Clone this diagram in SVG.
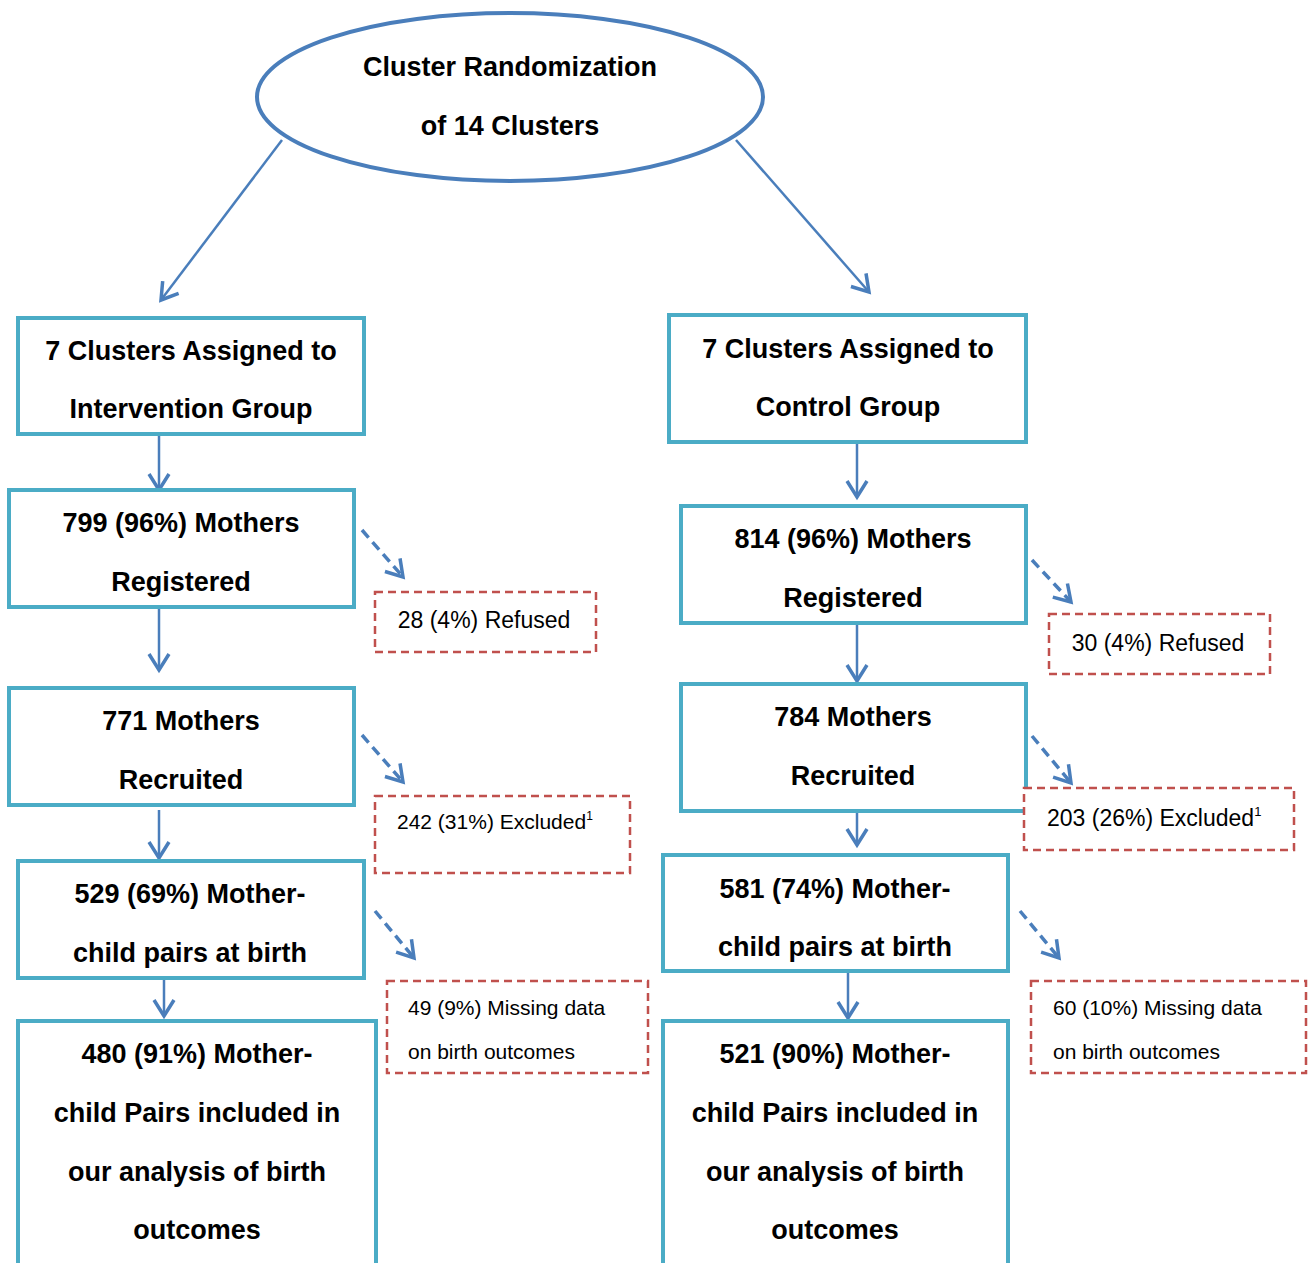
<svg xmlns="http://www.w3.org/2000/svg" width="1311" height="1263" viewBox="0 0 1311 1263">
<style>
.box{fill:#fff;stroke:#4bacc6;stroke-width:4}
.dbox{fill:#fff;stroke:#c0504d;stroke-width:2.5;stroke-dasharray:8 5}
.b{font-family:"Liberation Sans",Arial,sans-serif;font-weight:bold;font-size:27px;fill:#000;text-anchor:middle}
.r{font-family:"Liberation Sans",Arial,sans-serif;font-size:23px;fill:#000}
.s{font-size:21px}
.a{stroke:#4a7ebb;stroke-width:2.5;fill:none}
.d{stroke:#4a7ebb;stroke-width:3.5;fill:none;stroke-dasharray:10 6}
</style>
<defs>
<marker id="ah" markerUnits="userSpaceOnUse" markerWidth="26" markerHeight="26" viewBox="0 0 26 26" refX="22" refY="13" orient="auto">
<path d="M6,3 L22,13 L6,23" fill="none" stroke="#4a7ebb" stroke-width="3.5"/>
</marker>
</defs>
<g id="connectors">
<line class="a" x1="282" y1="140" x2="161" y2="300" marker-end="url(#ah)"/>
<line class="a" x1="736" y1="140" x2="869" y2="292" marker-end="url(#ah)"/>
<line class="a" x1="159" y1="432" x2="159" y2="490" marker-end="url(#ah)"/>
<line class="a" x1="159" y1="607" x2="159" y2="670" marker-end="url(#ah)"/>
<line class="a" x1="159" y1="810" x2="159" y2="858" marker-end="url(#ah)"/>
<line class="a" x1="164" y1="980" x2="164" y2="1016" marker-end="url(#ah)"/>
<line class="a" x1="857" y1="432" x2="857" y2="497" marker-end="url(#ah)"/>
<line class="a" x1="857" y1="615" x2="857" y2="681" marker-end="url(#ah)"/>
<line class="a" x1="857" y1="811" x2="857" y2="845" marker-end="url(#ah)"/>
<line class="a" x1="848" y1="971" x2="848" y2="1018" marker-end="url(#ah)"/>
<line class="d" x1="362" y1="530" x2="403" y2="577" marker-end="url(#ah)"/>
<line class="d" x1="1032" y1="560" x2="1071" y2="602" marker-end="url(#ah)"/>
<line class="d" x1="362" y1="735" x2="403" y2="782" marker-end="url(#ah)"/>
<line class="d" x1="1032" y1="736" x2="1071" y2="783" marker-end="url(#ah)"/>
<line class="d" x1="375" y1="911" x2="414" y2="958" marker-end="url(#ah)"/>
<line class="d" x1="1020" y1="911" x2="1059" y2="958" marker-end="url(#ah)"/>
</g>
<g id="root">
<ellipse cx="510" cy="97" rx="253" ry="84" fill="#fff" stroke="#4a7ebb" stroke-width="4"/>
<text class="b" x="510" y="76">Cluster Randomization</text>
<text class="b" x="510" y="135">of 14 Clusters</text>
</g>
<g id="L1"><rect class="box" x="18" y="318" width="346" height="116"/>
<text class="b" x="191" y="360">7 Clusters Assigned to</text>
<text class="b" x="191" y="418">Intervention Group</text></g>
<g id="R1"><rect class="box" x="669" y="315" width="357" height="127"/>
<text class="b" x="848" y="358">7 Clusters Assigned to</text>
<text class="b" x="848" y="416">Control Group</text></g>
<g id="L2"><rect class="box" x="9" y="490" width="345" height="117"/>
<text class="b" x="181" y="532">799 (96%) Mothers</text>
<text class="b" x="181" y="591">Registered</text></g>
<g id="R2"><rect class="box" x="681" y="506" width="345" height="117"/>
<text class="b" x="853" y="548">814 (96%) Mothers</text>
<text class="b" x="853" y="607">Registered</text></g>
<g id="L3"><rect class="box" x="9" y="688" width="345" height="117"/>
<text class="b" x="181" y="730">771 Mothers</text>
<text class="b" x="181" y="789">Recruited</text></g>
<g id="R3"><rect class="box" x="681" y="684" width="345" height="127"/>
<text class="b" x="853" y="726">784 Mothers</text>
<text class="b" x="853" y="785">Recruited</text></g>
<g id="L4"><rect class="box" x="18" y="861" width="346" height="117"/>
<text class="b" x="190" y="903">529 (69%) Mother-</text>
<text class="b" x="190" y="962">child pairs at birth</text></g>
<g id="R4"><rect class="box" x="663" y="855" width="345" height="116"/>
<text class="b" x="835" y="898">581 (74%) Mother-</text>
<text class="b" x="835" y="956">child pairs at birth</text></g>
<g id="L5"><rect class="box" x="18" y="1021" width="358" height="250"/>
<text class="b" x="197" y="1063">480 (91%) Mother-</text>
<text class="b" x="197" y="1122">child Pairs included in</text>
<text class="b" x="197" y="1181">our analysis of birth</text>
<text class="b" x="197" y="1239">outcomes</text></g>
<g id="R5"><rect class="box" x="663" y="1021" width="345" height="250"/>
<text class="b" x="835" y="1063">521 (90%) Mother-</text>
<text class="b" x="835" y="1122">child Pairs included in</text>
<text class="b" x="835" y="1181">our analysis of birth</text>
<text class="b" x="835" y="1239">outcomes</text></g>
<g id="D1"><rect class="dbox" x="375" y="592" width="221" height="60"/>
<text class="r" x="484" y="628" text-anchor="middle">28 (4%) Refused</text></g>
<g id="D2"><rect class="dbox" x="1049" y="614" width="221" height="60"/>
<text class="r" x="1158" y="651" text-anchor="middle">30 (4%) Refused</text></g>
<g id="D3"><rect class="dbox" x="375" y="796" width="255" height="77"/>
<text class="r s" x="397" y="829">242 (31%) Excluded<tspan font-size="12" dy="-9">1</tspan></text></g>
<g id="D4"><rect class="dbox" x="1024" y="788" width="270" height="62"/>
<text class="r" x="1047" y="826">203 (26%) Excluded<tspan font-size="13" dy="-10">1</tspan></text></g>
<g id="D5"><rect class="dbox" x="387" y="981" width="261" height="92"/>
<text class="r s" x="408" y="1015">49 (9%) Missing data</text>
<text class="r s" x="408" y="1059">on birth outcomes</text></g>
<g id="D6"><rect class="dbox" x="1031" y="981" width="275" height="92"/>
<text class="r s" x="1053" y="1015">60 (10%) Missing data</text>
<text class="r s" x="1053" y="1059">on birth outcomes</text></g>
</svg>
